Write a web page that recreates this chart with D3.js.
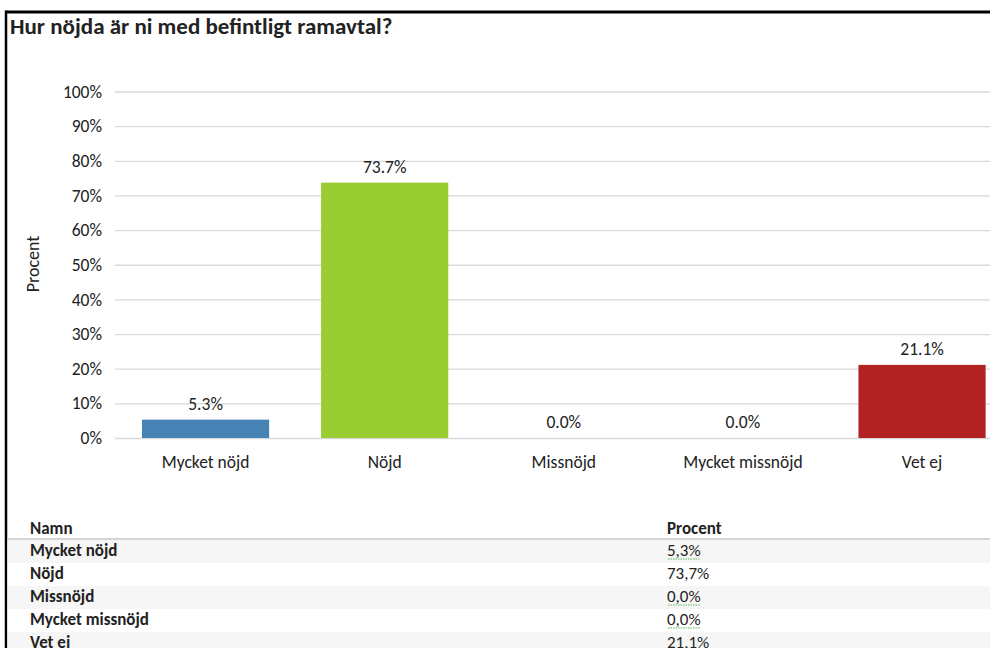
<!DOCTYPE html>
<html>
<head>
<meta charset="utf-8">
<script src="https://cdn.jsdelivr.net/npm/d3@7/dist/d3.min.js"></script>
<style>
  html, body { margin: 0; padding: 0; background: #fff; }
  svg { display: block; }
  text { font-family: Carlito, "Open Sans", "Noto Sans", sans-serif; fill: #222; }
</style>
</head>
<body>
<svg id="chart" width="990" height="648"></svg>
<script>
// Survey answers: "Hur nöjda är ni med befintligt ramavtal?"
const title = "Hur nöjda är ni med befintligt ramavtal?";
const categories = ["Mycket nöjd", "Nöjd", "Missnöjd", "Mycket missnöjd", "Vet ej"];
const percent = [5.3, 73.7, 0.0, 0.0, 21.1];
const barColors = ["#4682B4", "#9ACD32", "#6a9fd0", "#8064a2", "#B22222"];
const yTicks = [0, 10, 20, 30, 40, 50, 60, 70, 80, 90, 100];
const axisTitle = "Procent";
const tableHeaders = ["Namn", "Procent"];

const svg = d3.select("#chart");
const FONT = 'Carlito, "Open Sans", sans-serif';

// Outer frame (top and left edges visible)
svg.append("line").attr("x1", 6).attr("x2", 990).attr("y1", 12).attr("y2", 12)
  .attr("stroke", "#000").attr("stroke-width", 3);
svg.append("line").attr("x1", 6).attr("x2", 6).attr("y1", 10.5).attr("y2", 648)
  .attr("stroke", "#000").attr("stroke-width", 2.5);

svg.append("text").attr("x", 10).attr("y", 34)
  .attr("font-size", 23).attr("font-weight", "bold").attr("fill", "#111")
  .text(title);

// Scales
const x = d3.scaleBand().domain(categories).range([116, 1011.6])
  .paddingInner(0.29).paddingOuter(0.145);
const y = d3.scaleLinear().domain([0, 100]).range([438, 91.5]);

// Gridlines + y tick labels
const yAxis = d3.axisLeft(y).tickValues(yTicks).tickFormat(d => d + "%")
  .tickSize(-(1011.6 - 115)).tickPadding(13);
const gy = svg.append("g").attr("transform", "translate(115,0)").call(yAxis);
gy.select(".domain").remove();
gy.selectAll(".tick line").attr("stroke", "#d9d9d9").attr("stroke-width", 1.3);
gy.selectAll(".tick text").attr("font-size", 17.5).attr("fill", "#2a2a2a")
  .attr("font-family", FONT);

svg.append("text")
  .attr("transform", "translate(39,264) rotate(-90)")
  .attr("text-anchor", "middle").attr("font-size", 18).attr("fill", "#111")
  .text(axisTitle);

// Bars
svg.append("g").selectAll("rect").data(categories).join("rect")
  .attr("x", d => x(d))
  .attr("width", x.bandwidth())
  .attr("y", (d, i) => y(percent[i]))
  .attr("height", (d, i) => y(0) - y(percent[i]))
  .attr("fill", (d, i) => barColors[i]);

// Value labels
svg.append("g").selectAll("text").data(categories).join("text")
  .attr("x", d => x(d) + x.bandwidth() / 2)
  .attr("y", (d, i) => y(percent[i]) - 10)
  .attr("text-anchor", "middle").attr("font-size", 17.5).attr("fill", "#2a2a2a")
  .text((d, i) => percent[i].toFixed(1) + "%");

// Category axis labels
const xAxis = d3.axisBottom(x).tickSize(0).tickPadding(0);
const gx = svg.append("g").attr("transform", "translate(0,456)").call(xAxis);
gx.select(".domain").remove();
gx.selectAll(".tick text").attr("font-size", 17.5).attr("fill", "#2a2a2a")
  .attr("font-family", FONT);

// Data table below the chart
const rowY = d3.scaleBand().domain(categories).range([540, 540 + 23 * categories.length]);
const table = svg.append("g");
table.selectAll("rect").data(categories).join("rect")
  .attr("x", 7.5).attr("width", 990 - 7.5)
  .attr("y", d => rowY(d)).attr("height", rowY.bandwidth())
  .attr("fill", (d, i) => i % 2 === 0 ? "#f6f6f6" : "#ffffff");
table.append("line").attr("x1", 7.5).attr("x2", 990).attr("y1", 539).attr("y2", 539)
  .attr("stroke", "#d4d4d4").attr("stroke-width", 2);

const colX = [30, 667];
table.selectAll("text.head").data(tableHeaders).join("text").attr("class", "head")
  .attr("x", (d, i) => colX[i]).attr("y", 534)
  .attr("font-size", 17).attr("font-weight", "bold").attr("fill", "#111")
  .text(d => d);

table.selectAll("text.name").data(categories).join("text").attr("class", "name")
  .attr("x", colX[0]).attr("y", d => rowY(d) + 16)
  .attr("font-size", 17).attr("font-weight", "bold").attr("fill", "#111")
  .text(d => d);

const valueText = table.selectAll("text.val").data(categories).join("text").attr("class", "val")
  .attr("x", colX[1]).attr("y", d => rowY(d) + 16)
  .attr("font-size", 17).attr("fill", "#111")
  .text((d, i) => percent[i].toFixed(1).replace(".", ",") + "%");

// Dotted green proofing underline under the decimal-comma values
valueText.each(function (d, i) {
  if (i === 1 || i === 4) return;
  const w = this.getComputedTextLength();
  table.append("line")
    .attr("x1", colX[1] + 1).attr("x2", colX[1] + w)
    .attr("y1", rowY(d) + 19).attr("y2", rowY(d) + 19)
    .attr("stroke", "#5cb85c").attr("stroke-width", 1.2).attr("stroke-dasharray", "1.5,1");
});
</script>
</body>
</html>
